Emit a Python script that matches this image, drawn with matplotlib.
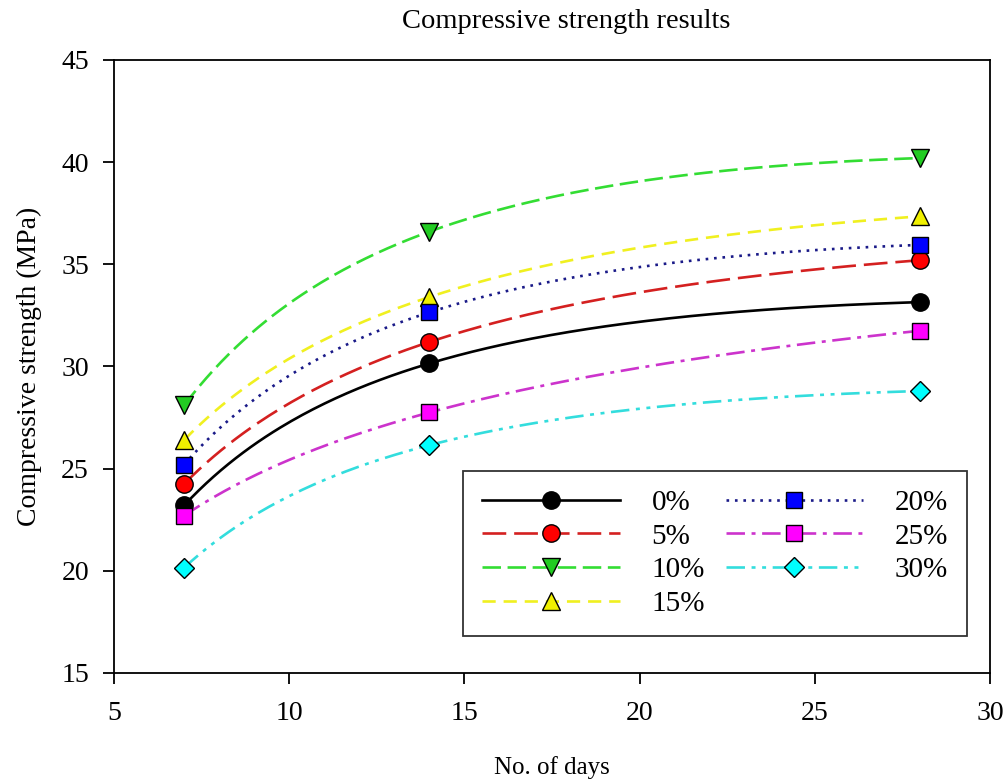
import numpy as np
import matplotlib
matplotlib.use('Agg')
import matplotlib.pyplot as plt
from matplotlib.lines import Line2D

plt.rcParams['font.family'] = ['Liberation Serif', 'DejaVu Serif']

# data
days = [7, 14, 28]
labels = ['0%', '5%', '10%', '15%', '20%', '25%', '30%']
s0 = [23.2, 30.15, 33.15]
s5 = [24.25, 31.2, 35.2]
s10 = [28.1, 36.6, 40.2]
s15 = [26.4, 33.4, 37.35]
s20 = [25.2, 32.65, 35.95]
s25 = [22.7, 27.75, 31.75]
s30 = [20.15, 26.15, 28.8]
series = [s0, s5, s10, s15, s20, s25, s30]

# styles: line colour, dash pattern, marker, marker face
styles = [
    ('black', '-', 'o', 'black'),
    ('#d42020', (0, (9, 3)), 'o', '#ff0000'),
    ('#33dd33', (0, (7, 2.5)), 'v', '#22cc22'),
    ('#f0f020', (0, (5, 3)), '^', '#f0f000'),
    ('#1a1a88', (0, (1, 2.2)), 's', '#0000ff'),
    ('#cc33cc', (0, (7, 2.5, 1.5, 2.5)), 's', '#ff00ff'),
    ('#33dddd', (0, (7, 2.5, 1.5, 2.5, 1.5, 2.5)), 'D', '#00ffff'),
]
msizes = [12.5, 12.5, 12.5, 12.5, 11, 11, 10]

fig = plt.figure(figsize=(10.07, 7.84), dpi=100)
ax = fig.add_axes([0.1132, 0.1416, 0.8700, 0.7819])

xs = np.linspace(days[0], days[-1], 200)
handles = []
for vals, (lc, ls, mk, fc), ms, lab in zip(series, styles, msizes, labels):
    # smooth curve through the three points (quadratic in log of days)
    c = np.polyfit(np.log(days), vals, 2)
    ax.plot(xs, np.polyval(c, np.log(xs)), color=lc, linestyle=ls, lw=1.9, zorder=2)
    ax.plot(days, vals, linestyle='none', marker=mk, ms=ms, mfc=fc,
            mec='black', mew=1.0, zorder=3)
    handles.append(Line2D([], [], color=lc, linestyle=ls, lw=1.9, marker=mk, ms=ms,
                          mfc=fc, mec='black', mew=1.0, label=lab))

ax.set_xlim(5, 30)
ax.set_ylim(15, 45)
ax.set_xticks([5, 10, 15, 20, 25, 30])
ax.set_yticks([15, 20, 25, 30, 35, 40, 45])
ax.tick_params(axis='both', direction='out', length=8, width=1.3, labelsize=20,
               top=False, right=False)
ax.tick_params(axis='y', pad=10)
ax.tick_params(axis='x', pad=12)
for sp in ax.spines.values():
    sp.set_linewidth(1.3)

ax.set_xlabel('No. of days', fontsize=18, labelpad=22)
ax.set_ylabel('Compressive strength (MPa)', fontsize=20, labelpad=14)
fig.text(0.562, 0.972, 'Compressive strength results', ha='center', va='center', fontsize=20.5)

leg = ax.legend(handles=handles, ncol=2, loc='lower right',
                bbox_to_anchor=(0.9737, 0.0604), borderaxespad=0, fontsize=21,
                frameon=True, fancybox=False, edgecolor='black', handlelength=4.7,
                handletextpad=1.1, columnspacing=0.7, labelspacing=0.25,
                borderpad=0.65, numpoints=1)
leg.get_frame().set_linewidth(1.3)

fig.savefig('out.png', dpi=100)
